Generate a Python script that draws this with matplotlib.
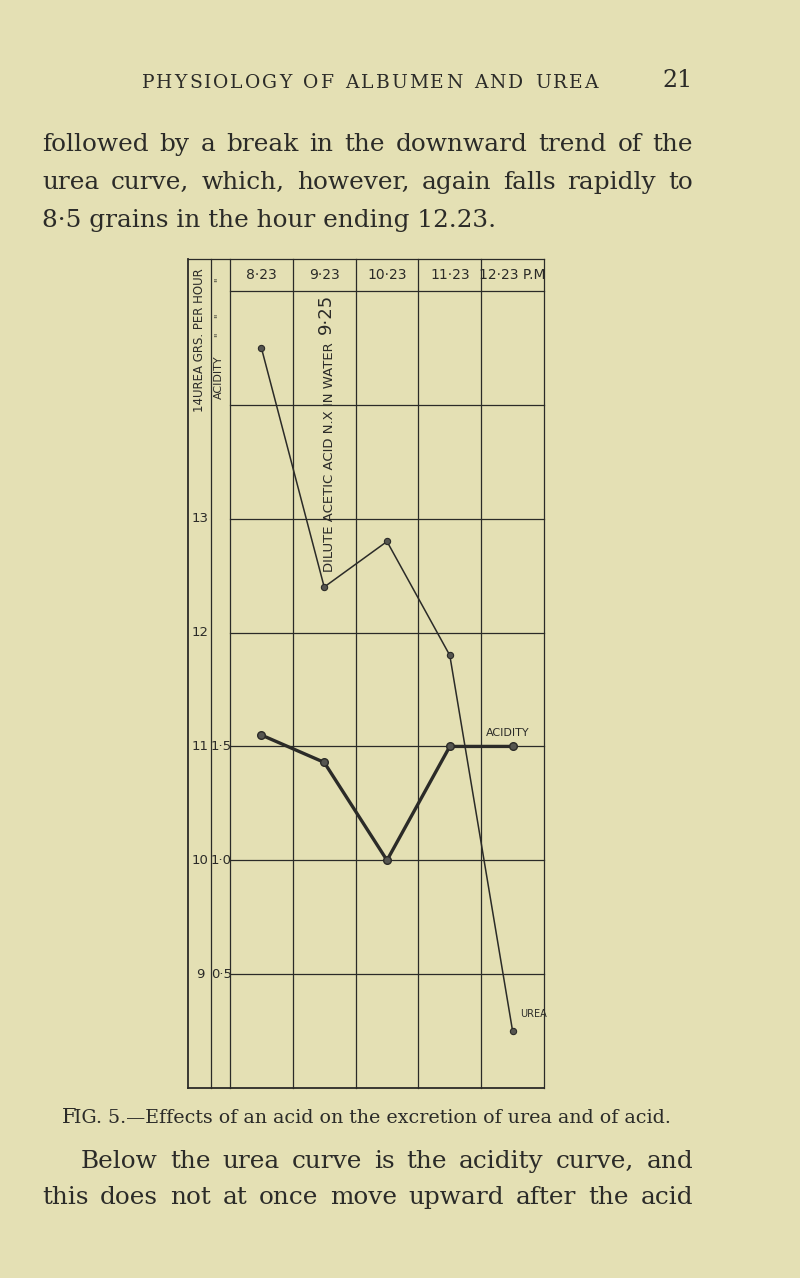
import matplotlib
matplotlib.use("Agg")
import matplotlib.pyplot as plt

# ── data ───────────────────────────────────────────────────────────────────────
HOURS       = ["8·23", "9·23", "10·23", "11·23", "12·23 P.M"]
UREA        = [14.5, 12.4, 12.8, 11.8, 8.5]        # grains per hour
ACIDITY     = [1.55, 1.43, 1.0, 1.5, 1.5]
UREA_TICKS  = [9, 10, 11, 12, 13]
ACID_TICKS  = [0.5, 1.0, 1.5]
ACID_LABELS = ["0·5", "1·0", "1·5"]

PAPER = "#e4e0b4"
INK   = "#2b2b28"

W, H = 800, 1278
fig = plt.figure(figsize=(W / 100, H / 100), dpi=100, facecolor=PAPER)
R = fig.canvas.get_renderer()

def px(x, y):
    return x / W, 1 - y / H

# ── page text ────────────────────────────────────────────────────────────────
SERIF = "DejaVu Serif"
L_MARGIN, R_MARGIN = 42, 693

def width_of(s, size):
    t = fig.text(0, 0, s, fontsize=size, family=SERIF)
    w = t.get_window_extent(renderer=R).width
    t.remove()
    return w

# body size chosen so the short last line of the paragraph has its printed length
BODY = 10 * 453 / width_of("8·5 grains in the hour ending 12.23.", 10)
CAPTION = "IG. 5.—Effects of an acid on the excretion of urea and of acid."
CAP_SIZE = 10 * 598 / width_of(CAPTION, 10)

def justify(line, y, x0, x1, size):
    """place the words of a line so it runs from x0 to x1 (pixels)"""
    words = line.split()
    ts = [fig.text(0, 0, w, fontsize=size, family=SERIF, color=INK) for w in words]
    widths = [t.get_window_extent(renderer=R).width for t in ts]
    gap = (x1 - x0 - sum(widths)) / max(len(words) - 1, 1)
    x = x0
    for t, w in zip(ts, widths):
        t.set_position(px(x, y))
        x += w + gap

def tracked(line, y, x0, x1, size):
    """capitals spread letter by letter (running head)"""
    ts = [fig.text(0, 0, c, fontsize=size, family=SERIF, color=INK) for c in line]
    widths = [t.get_window_extent(renderer=R).width if c != " " else size * 0.6
              for t, c in zip(ts, line)]
    track = (x1 - x0 - sum(widths)) / (len(line) - 1)
    x = x0
    for t, w in zip(ts, widths):
        t.set_position(px(x, y))
        x += w + track

tracked("PHYSIOLOGY OF ALBUMEN AND UREA", 88, 142, 598, 13.5)
fig.text(*px(R_MARGIN, 87), "21", fontsize=17, family=SERIF, color=INK,
         ha="right", va="baseline")

justify("followed by a break in the downward trend of the", 151, L_MARGIN, R_MARGIN, BODY)
justify("urea curve, which, however, again falls rapidly to", 189, L_MARGIN, R_MARGIN, BODY)
fig.text(*px(L_MARGIN, 227), "8·5 grains in the hour ending 12.23.", fontsize=BODY,
         family=SERIF, color=INK, va="baseline")

fig.text(*px(62, 1123), "F", fontsize=CAP_SIZE * 1.1, family=SERIF, color=INK,
         va="baseline")
fig.text(*px(74, 1123), CAPTION, fontsize=CAP_SIZE, family=SERIF, color=INK,
         va="baseline")
justify("Below the urea curve is the acidity curve, and", 1168, 81, R_MARGIN, BODY)
justify("this does not at once move upward after the acid", 1204, L_MARGIN, R_MARGIN, BODY)

# ── chart ────────────────────────────────────────────────────────────────────
left, right, top, bottom = 230, 544, 291, 1088
ax = fig.add_axes([left / W, 1 - bottom / H, (right - left) / W, (bottom - top) / H])
ax.set_facecolor("none")
ax.set_xlim(0, len(HOURS))
ax.set_ylim(8, 15)
for s in ax.spines.values():
    s.set_visible(False)
ax.set_xticks([])
ax.set_yticks([])

HEAD = 15.28      # top of the header row
XL   = -0.67      # outer left frame
XS   = -0.30      # urea / acidity column separator
grid = dict(color=INK, lw=0.9, clip_on=False)

for yv in range(9, 16):
    ax.plot([0, len(HOURS)], [yv, yv], **grid)
ax.plot([XL, len(HOURS)], [HEAD, HEAD], **grid)
ax.plot([XL, len(HOURS)], [8, 8], color=INK, lw=1.3, clip_on=False)
for xv in range(0, len(HOURS) + 1):
    ax.plot([xv, xv], [8, HEAD], **grid)
ax.plot([XL, XL], [8, HEAD], color=INK, lw=1.3, clip_on=False)
ax.plot([XS, XS], [8, HEAD], **grid)

xs = [i + 0.5 for i in range(len(HOURS))]
for x, lab in zip(xs, HOURS):
    ax.text(x, 15.14, lab, ha="center", va="center", fontsize=10, color=INK)

for v in UREA_TICKS:
    ax.text(-0.48, v, str(v), ha="center", va="center", fontsize=9.5, color=INK)
ax.text(-0.49, 13.94, "14UREA GRS. PER HOUR", rotation=90, ha="center",
        va="bottom", fontsize=8.5, color=INK)
ax.text(-0.18, 14.05, "ACIDITY", rotation=90, ha="center", va="bottom",
        fontsize=8, color=INK)
for yv in (14.62, 14.78, 15.1):
    ax.text(-0.19, yv, '"', rotation=90, ha="center", va="center",
            fontsize=7, color=INK)

ax.text(1.58, 12.53, "DILUTE ACETIC ACID N.X IN WATER", rotation=90,
        ha="center", va="bottom", fontsize=9.5, color=INK)
ax.text(1.53, 14.98, "9·25", rotation=90, ha="center", va="top",
        fontsize=13, color=INK)

ax.plot(xs, UREA, color=INK, lw=1.1, marker="o", ms=4.5,
        mfc="#555550", mec=INK, mew=0.8)

ax2 = ax.twinx()
ax2.set_ylim(0, 3.5)
for s in ax2.spines.values():
    s.set_visible(False)
ax2.set_yticks([])
ax2.plot(xs, ACIDITY, color=INK, lw=2.4, marker="o", ms=5.5,
         mfc="#555550", mec=INK, mew=1.0)
for v, lab in zip(ACID_TICKS, ACID_LABELS):
    ax2.text(-0.14, v, lab, ha="center", va="center", fontsize=9.5, color=INK)

ax2.text(4.43, 1.56, "ACIDITY", ha="center", va="center", fontsize=8, color=INK)
ax.text(4.84, 8.65, "UREA", ha="center", va="center", fontsize=7, color=INK)

fig.savefig("out.png", dpi=100, facecolor=PAPER)
